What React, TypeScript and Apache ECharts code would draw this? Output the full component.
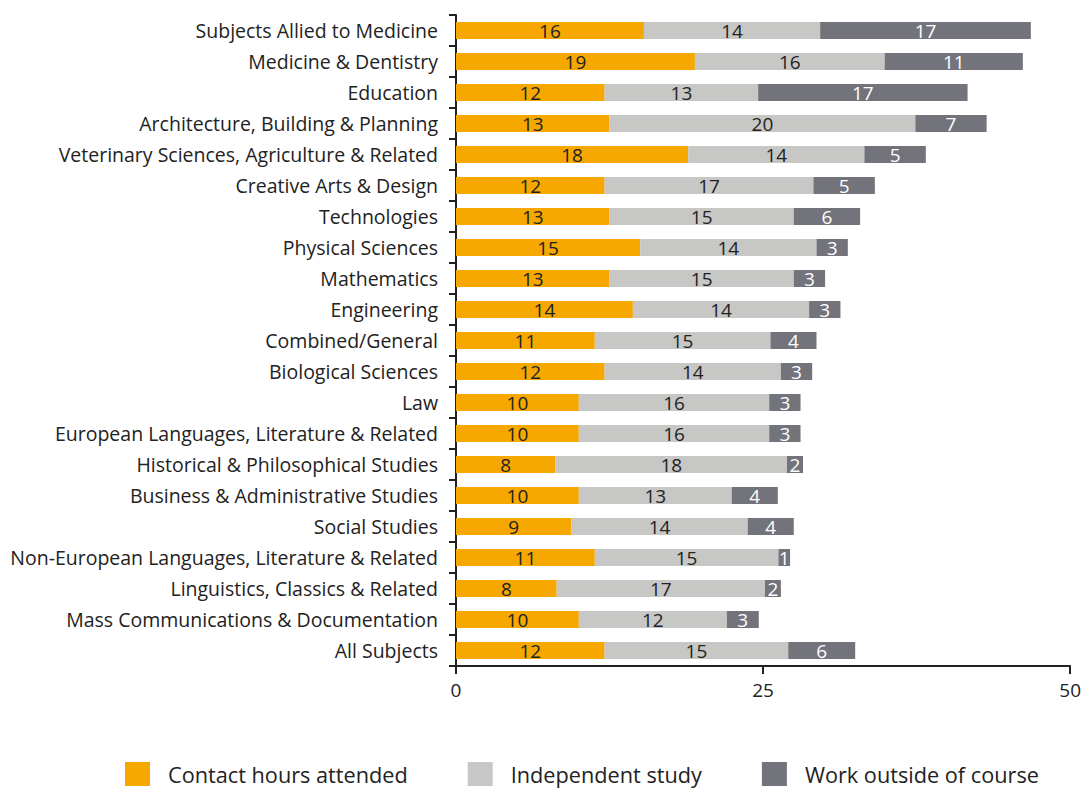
import React, { useEffect, useRef } from "react";
import * as echarts from "echarts";

const categories = [
  "Subjects Allied to Medicine",
  "Medicine & Dentistry",
  "Education",
  "Architecture, Building & Planning",
  "Veterinary Sciences, Agriculture & Related",
  "Creative Arts & Design",
  "Technologies",
  "Physical Sciences",
  "Mathematics",
  "Engineering",
  "Combined/General",
  "Biological Sciences",
  "Law",
  "European Languages, Literature & Related",
  "Historical & Philosophical Studies",
  "Business & Administrative Studies",
  "Social Studies",
  "Non-European Languages, Literature & Related",
  "Linguistics, Classics & Related",
  "Mass Communications & Documentation",
  "All Subjects",
];

// bar lengths as drawn
const contactValues = [15.3, 19.45, 12.1, 12.5, 18.9, 12.1, 12.5, 15.0, 12.5, 14.4, 11.3, 12.1, 10.0, 10.0, 8.1, 10.0, 9.4, 11.3, 8.2, 10.0, 12.1];
const independentValues = [14.35, 15.45, 12.5, 24.9, 14.35, 17.0, 15.0, 14.35, 15.0, 14.35, 14.3, 14.35, 15.5, 15.5, 18.85, 12.45, 14.35, 14.95, 16.95, 12.05, 14.95];
const outsideValues = [17.15, 11.25, 17.05, 5.8, 5.0, 5.0, 5.4, 2.55, 2.55, 2.55, 3.75, 2.55, 2.55, 2.55, 1.3, 3.75, 3.75, 0.95, 1.3, 2.6, 5.45];

// printed labels
const contactLabels = [16, 19, 12, 13, 18, 12, 13, 15, 13, 14, 11, 12, 10, 10, 8, 10, 9, 11, 8, 10, 12];
const independentLabels = [14, 16, 13, 20, 14, 17, 15, 14, 15, 14, 15, 14, 16, 16, 18, 13, 14, 15, 17, 12, 15];
const outsideLabels = [17, 11, 17, 7, 5, 5, 6, 3, 3, 3, 4, 3, 3, 3, 2, 4, 4, 1, 2, 3, 6];

const seriesNames = ["Contact hours attended", "Independent study", "Work outside of course"];
const xTicks = [0, 25, 50];

const FONT = "'Open Sans', sans-serif";

export default function App() {
  const ref = useRef<HTMLDivElement>(null);
  useEffect(() => {
    if (!ref.current) return;
    const chart = echarts.init(ref.current, null, { renderer: "svg" });
    const mk = (name: string, values: number[], labels: number[], color: string, labelColor: string) => ({
      name,
      type: "bar",
      stack: "total",
      data: values,
      barWidth: 17,
      itemStyle: { color },
      label: {
        show: true,
        position: "inside",
        color: labelColor,
        fontSize: 19,
        fontFamily: FONT,
        formatter: (p: any) => String(labels[p.dataIndex]),
      },
    });
    chart.setOption({
      animation: false,
      textStyle: { fontFamily: FONT },
      grid: { left: 456, right: 11, top: 15, bottom: 124, containLabel: false },
      legend: {
        left: 125,
        top: 762,
        padding: 0,
        itemWidth: 25,
        itemHeight: 24,
        itemGap: 60,
        icon: "rect",
        textStyle: { fontSize: 21.7, lineHeight: 24, color: "#222", fontFamily: FONT, padding: [0, 0, 0, 13] },
        data: seriesNames,
      },
      xAxis: {
        type: "value",
        min: xTicks[0],
        max: xTicks[xTicks.length - 1],
        interval: 25,
        axisLine: { show: true, lineStyle: { color: "#222", width: 2 } },
        axisTick: { show: true, length: 8, lineStyle: { color: "#222", width: 2 } },
        axisLabel: { fontSize: 19, color: "#222", fontFamily: FONT, margin: 14 },
        splitLine: { show: false },
      },
      yAxis: {
        type: "category",
        inverse: true,
        data: categories,
        axisLine: { show: true, lineStyle: { color: "#222", width: 2 } },
        axisTick: { show: true, length: 7, lineStyle: { color: "#222", width: 2 } },
        axisLabel: { fontSize: 19.5, color: "#222", fontFamily: FONT, margin: 18 },
      },
      series: [
        mk(seriesNames[0], contactValues, contactLabels, "#F6A800", "#222"),
        mk(seriesNames[1], independentValues, independentLabels, "#C7C7C5", "#222"),
        mk(seriesNames[2], outsideValues, outsideLabels, "#72737B", "#fff"),
      ],
    });
    return () => chart.dispose();
  }, []);
  return (
    <div
      ref={ref}
      style={{ position: "absolute", left: 0, top: 0, width: 1084, height: 790, background: "#fff" }}
    />
  );
}
